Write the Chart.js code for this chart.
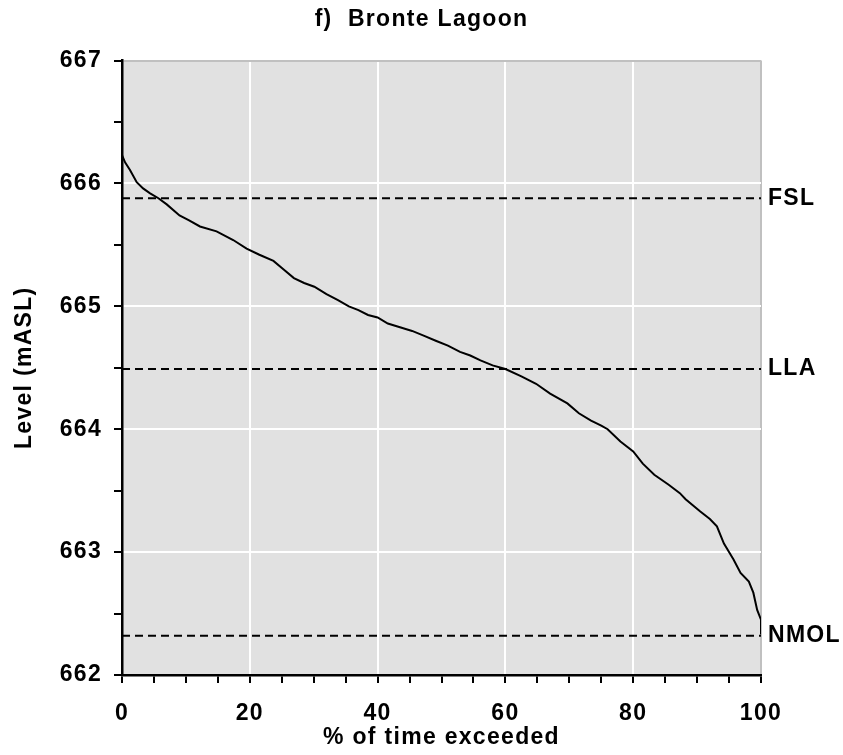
<!DOCTYPE html>
<html>
<head>
<meta charset="utf-8">
<title>Bronte Lagoon</title>
<script src="https://cdn.jsdelivr.net/npm/chart.js@4.4.1/dist/chart.umd.min.js"></script>
<style>
  body { margin: 0; background: #fff; }
  canvas { display: block; }
</style>
</head>
<body>
<canvas id="levelChart" width="843" height="755"></canvas>
<script>
// duration curve: % of time exceeded vs lagoon level (mASL)
const exceedPct = [0, 0.5, 1.25, 2.3, 3.3, 4.4, 5.7, 7, 9, 10.5, 12.2, 14.8, 17.4, 19.5,
  21.5, 23.7, 25.3, 26.9, 28.5, 30.1, 32, 33.8, 35.5, 37, 38.5, 40, 41.6, 43.5, 45.4,
  47.3, 49.1, 51, 52.9, 54.5, 56.1, 58, 60, 62.5, 64.8, 67, 69.7, 71.5, 73.4, 75, 76,
  78, 80, 81.5, 83.3, 85.5, 87.3, 88.2, 90.5, 92, 93.1, 94.2, 95.7, 96.8, 98.1, 98.8,
  99.4, 100, 100];
const levelM = [666.23, 666.17, 666.11, 666.01, 665.96, 665.92, 665.88, 665.83, 665.74,
  665.70, 665.65, 665.61, 665.54, 665.47, 665.42, 665.37, 665.30, 665.23, 665.19, 665.16,
  665.10, 665.05, 665.00, 664.97, 664.93, 664.91, 664.86, 664.83, 664.80, 664.76, 664.72,
  664.68, 664.63, 664.60, 664.56, 664.52, 664.49, 664.43, 664.37, 664.29, 664.21, 664.13,
  664.07, 664.03, 664.00, 663.90, 663.82, 663.72, 663.63, 663.55, 663.48, 663.43, 663.33,
  663.27, 663.21, 663.07, 662.94, 662.83, 662.76, 662.67, 662.53, 662.45, 662.33];

// operating levels
const refNames = ['FSL', 'LLA', 'NMOL'];
const refLevels = [665.88, 664.49, 662.32];

const FONT = 'Liberation Sans, Arial, sans-serif';
const boldFont = { family: FONT, size: 23, weight: 'bold' };

const curve = exceedPct.map((x, i) => ({ x: x, y: levelM[i] }));

const refSets = refLevels.map((lvl, i) => ({
  label: refNames[i],
  data: [{ x: 0, y: lvl }, { x: 100, y: lvl }],
  borderColor: '#000',
  borderWidth: 2,
  borderDash: [8, 5],
  pointRadius: 0,
  fill: false
}));

// grey plot area + slightly wider lettering
const plotBg = {
  id: 'plotBg',
  beforeLayout(chart) { chart.ctx.letterSpacing = '1.3px'; },
  beforeDraw(chart) {
    const a = chart.chartArea;
    const ctx = chart.ctx;
    ctx.letterSpacing = '1.3px';
    ctx.save();
    ctx.fillStyle = '#e1e1e1';
    ctx.fillRect(a.left, a.top, a.right - a.left, a.bottom - a.top);
    ctx.restore();
  }
};

new Chart(document.getElementById('levelChart'), {
  type: 'line',
  data: {
    datasets: [{
      label: 'Level',
      data: curve,
      borderColor: '#000',
      borderWidth: 2,
      pointRadius: 0,
      tension: 0,
      fill: false
    }].concat(refSets)
  },
  options: {
    responsive: false,
    animation: false,
    layout: { padding: 0 },
    plugins: {
      legend: { display: false },
      tooltip: { enabled: false },
      title: {
        display: true,
        text: 'f)  Bronte Lagoon',
        color: '#000',
        font: boldFont,
        padding: { top: 6, bottom: 27 }
      }
    },
    scales: {
      x: {
        type: 'linear',
        min: 0,
        max: 100,
        afterFit(scale) { scale.height = 80; },
        border: { color: '#000', width: 2.5 },
        grid: {
          color: c => {
            const v = c.tick.value;
            if (v === 100) return '#c0c0c0';
            return (v % 20 === 0 && v > 0) ? '#ffffff' : 'rgba(0,0,0,0)';
          },
          lineWidth: 2,
          tickColor: '#000',
          tickWidth: 2,
          tickLength: 8
        },
        ticks: {
          stepSize: 5,
          autoSkip: false,
          maxRotation: 0,
          color: '#000',
          padding: 17,
          font: boldFont,
          callback: v => (v % 20 === 0 ? v : '')
        },
        title: {
          display: true,
          text: '% of time exceeded',
          color: '#000',
          font: boldFont,
          padding: { top: 0, bottom: 4 }
        }
      },
      y: {
        type: 'linear',
        min: 662,
        max: 667,
        afterFit(scale) { scale.width = 122; },
        border: { color: '#000', width: 2.5 },
        grid: {
          color: c => {
            const v = c.tick.value;
            if (v === 667) return '#c0c0c0';
            return (Number.isInteger(v) && v > 662) ? '#ffffff' : 'rgba(0,0,0,0)';
          },
          lineWidth: 2,
          tickColor: '#000',
          tickWidth: 2,
          tickLength: 8
        },
        ticks: {
          stepSize: 0.5,
          autoSkip: false,
          color: '#000',
          padding: 12,
          font: boldFont,
          callback: v => (Number.isInteger(v) ? v : '')
        },
        title: {
          display: true,
          text: 'Level (mASL)',
          color: '#000',
          font: boldFont,
          padding: { top: 11, bottom: 0 }
        }
      },
      // right-hand axis carrying the operating level names
      levels: {
        type: 'linear',
        position: 'right',
        min: 662,
        max: 667,
        afterFit(scale) { scale.width = 82; },
        afterBuildTicks(scale) {
          scale.ticks = refLevels.map(v => ({ value: v }));
        },
        border: { display: false },
        grid: { display: false, drawTicks: false },
        ticks: {
          autoSkip: false,
          color: '#000',
          padding: 7,
          font: boldFont,
          callback: (v, i) => refNames[i]
        }
      }
    }
  },
  plugins: [plotBg]
});
</script>
</body>
</html>
